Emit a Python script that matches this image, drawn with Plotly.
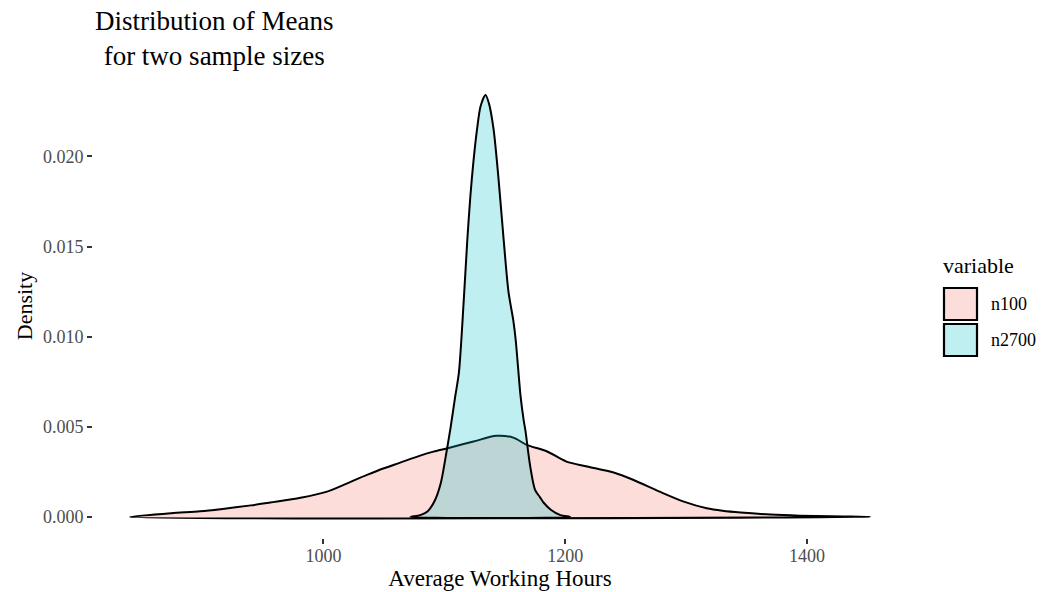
import plotly.graph_objects as go

# n100 density curve (Average Working Hours, density)
n100_x = [840, 874, 898, 915, 940, 956, 981, 1003, 1022, 1036, 1050, 1063, 1080, 1091,
          1102, 1124, 1143, 1157, 1168, 1185, 1201, 1218, 1240, 1256, 1278,
          1298, 1317, 1330, 1345, 1370, 1394, 1420, 1452]
n100_y = [0.0, 0.0002, 0.00031, 0.00043, 0.00064, 0.0008, 0.00106, 0.0014, 0.00193, 0.00233,
          0.0027, 0.003, 0.0034, 0.00362, 0.0038, 0.00418, 0.0045, 0.0044, 0.004,
          0.00363, 0.00307, 0.0028, 0.00246, 0.00206, 0.0014, 0.00085,
          0.00048, 0.00034, 0.00024, 0.00013, 0.00007, 0.00003, 0.0]

# n2700 density curve
n2700_x = [1072, 1080, 1086, 1092, 1097, 1102, 1105, 1109, 1112, 1116, 1119, 1121.5, 1124,
           1127, 1130, 1134, 1137, 1140.7, 1143.5, 1146, 1149, 1153, 1157, 1159, 1163,
           1165.5, 1167, 1171, 1175, 1179, 1182, 1188, 1196, 1204]
n2700_y = [0.0, 0.0001, 0.0003, 0.0009, 0.00187, 0.0037, 0.0049, 0.0067, 0.008, 0.012,
           0.0154, 0.0178, 0.0197, 0.0215, 0.0228, 0.0234, 0.0229, 0.0215, 0.0197, 0.0178,
           0.0154, 0.0125, 0.0109, 0.0098, 0.0067, 0.0054, 0.0048, 0.0028, 0.0015, 0.0011,
           0.0008, 0.0004, 0.0001, 0.0]

series = [
    ("n100", n100_x, n100_y, "rgba(248,118,109,0.25)"),
    ("n2700", n2700_x, n2700_y, "rgba(0,191,196,0.25)"),
]

x_ticks = [1000, 1200, 1400]
y_ticks = [0.000, 0.005, 0.010, 0.015, 0.020]
y_tick_labels = ["0.000", "0.005", "0.010", "0.015", "0.020"]

FONT = "Liberation Serif, Times New Roman, serif"

W, H = 1042, 592
ML, MR, MT, MB = 93, 135, 74, 54
PW, PH = W - ML - MR, H - MT - MB


def px_to_paper_x(px):
    return (px - ML) / PW


def px_to_paper_y(py):
    return (H - MB - py) / PH


fig = go.Figure()
for name, xs, ys, col in series:
    px = list(xs) + [xs[0]]
    py = list(ys) + [ys[0]]
    fig.add_trace(go.Scatter(
        x=px, y=py, name=name, mode="lines", fill="toself", fillcolor=col,
        line=dict(color="black", width=2, shape="spline", smoothing=0.8),
        showlegend=False,
    ))

x_lo = min(n100_x[0], n2700_x[0])
x_hi = max(n100_x[-1], n2700_x[-1])
x_pad = 0.05 * (x_hi - x_lo)
y_hi = max(max(n100_y), max(n2700_y))
y_pad = 0.05 * y_hi

fig.update_layout(
    width=W, height=H,
    margin=dict(l=ML, r=MR, t=MT, b=MB),
    plot_bgcolor="white", paper_bgcolor="white",
    font=dict(family=FONT, color="black"),
    showlegend=False,
    xaxis=dict(
        range=[x_lo - x_pad, x_hi + x_pad],
        tickvals=x_ticks, ticktext=[str(v) for v in x_ticks],
        ticks="outside", ticklen=5, tickwidth=1.5, tickcolor="#333333",
        ticklabelstandoff=-4,
        tickfont=dict(size=18, color="#4D4D4D", family=FONT),
        showgrid=False, zeroline=False, showline=False, automargin=False,
        title=dict(text="Average Working Hours", font=dict(size=23, color="black", family=FONT), standoff=0),
    ),
    yaxis=dict(
        range=[-y_pad, y_hi + y_pad],
        tickvals=y_ticks, ticktext=y_tick_labels,
        ticks="outside", ticklen=5, tickwidth=1.5, tickcolor="#333333",
        tickfont=dict(size=18, color="#4D4D4D", family=FONT),
        showgrid=False, zeroline=False, showline=False, automargin=False,
        title=dict(text="Density", font=dict(size=22, color="black", family=FONT), standoff=4),
    ),
)

# Title
fig.add_annotation(
    text="Distribution of Means<br>for two sample sizes",
    xref="paper", yref="paper", x=0, y=px_to_paper_y(4),
    xanchor="left", yanchor="top", align="center", showarrow=False,
    font=dict(size=27, color="black", family=FONT),
)

# Legend (drawn as keys + labels to match the large square keys)
fig.add_annotation(
    text="variable", xref="paper", yref="paper",
    x=px_to_paper_x(941), y=px_to_paper_y(265), xanchor="left", yanchor="middle",
    showarrow=False, font=dict(size=22, color="black", family=FONT),
)
key_top = 287
key_h = 34
for i, (name, xs, ys, col) in enumerate(series):
    y0 = key_top + i * (key_h + 2)
    fig.add_shape(
        type="rect", xref="paper", yref="paper",
        x0=px_to_paper_x(944), x1=px_to_paper_x(977),
        y0=px_to_paper_y(y0 + key_h - 1), y1=px_to_paper_y(y0 + 1),
        fillcolor=col, line=dict(color="black", width=2.2),
    )
    fig.add_annotation(
        text=name, xref="paper", yref="paper",
        x=px_to_paper_x(989), y=px_to_paper_y(y0 + key_h / 2), xanchor="left", yanchor="middle",
        showarrow=False, font=dict(size=18, color="black", family=FONT),
    )

fig.write_html("out.html")
